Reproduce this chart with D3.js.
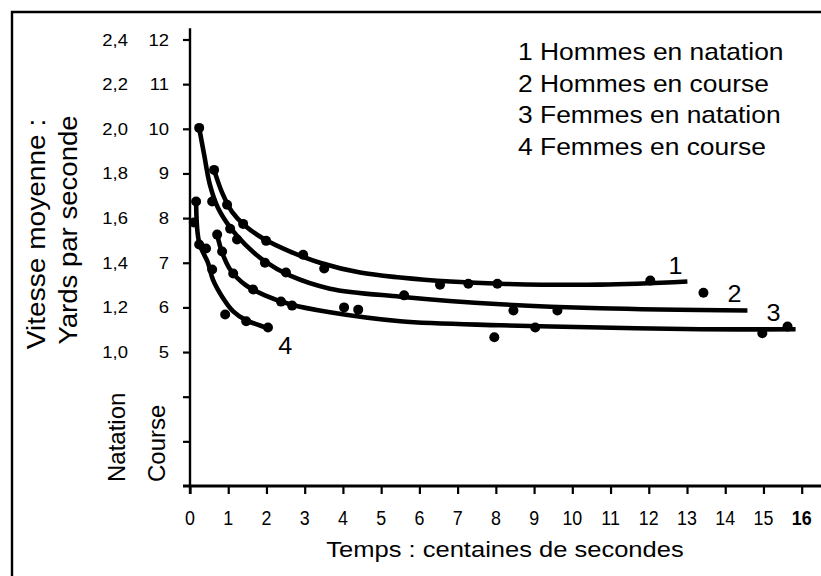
<!doctype html>
<html>
<head>
  <meta charset="UTF-8">
  <script src="https://d3js.org/d3.v7.min.js"></script>
  <style>
    body { margin: 0; background: #fff; }
    svg { display: block; }
    text { font-family: "Liberation Sans", Arial, Helvetica, sans-serif; fill: #000; }
  </style>
</head>
<body>
<svg width="821" height="576"></svg>
<script>
// x ticks: temps (centaines de secondes)
const xTicks = d3.range(0, 17);
// y ticks, right column = course, left column = natation (yards/s)
const courseTicks = [12, 11, 10, 9, 8, 7, 6, 5];
const swimTicks = ["2,4", "2,2", "2,0", "1,8", "1,6", "1,4", "1,2", "1,0"];
const extraTicks = [4, 3];

const legendItems = ["1 Hommes en natation", "2 Hommes en course",
                     "3 Femmes en natation", "4 Femmes en course"];

// measured points  [temps, vitesse (échelle course)]
const dots1 = [[0.63, 9.08], [0.97, 8.30], [1.39, 7.87], [1.99, 7.49], [2.96, 7.18],
               [3.51, 6.87], [6.54, 6.51], [7.28, 6.53], [8.04, 6.53], [12.04, 6.60]];
const dots2 = [[0.24, 10.02], [0.58, 8.37], [1.05, 7.76], [1.23, 7.52], [1.96, 7.00],
               [2.51, 6.78], [5.60, 6.27], [8.46, 5.93], [9.61, 5.93], [13.43, 6.33]];
const dots3 = [[0.71, 7.63], [0.84, 7.25], [1.13, 6.76], [1.65, 6.40], [2.38, 6.13],
               [2.67, 6.04], [4.03, 6.00], [4.40, 5.95], [7.96, 5.33], [9.03, 5.55],
               [14.97, 5.42], [15.63, 5.57]];
const dots4 = [[0.16, 8.37], [0.10, 7.90], [0.24, 7.41], [0.42, 7.32], [0.58, 6.85],
               [0.92, 5.84], [1.47, 5.69], [2.04, 5.55]];

// fitted curves
const fit1 = [[0.63, 9.08], [0.84, 8.57], [1.10, 8.14], [1.44, 7.83], [1.96, 7.52],
              [2.62, 7.25], [3.40, 7.00], [4.45, 6.78], [5.50, 6.67], [6.81, 6.58],
              [8.12, 6.53], [10.73, 6.51], [13.01, 6.58]];
const fit2 = [[0.24, 10.02], [0.37, 9.42], [0.52, 8.75], [0.73, 8.23], [1.05, 7.79],
              [1.44, 7.41], [1.96, 7.03], [2.62, 6.71], [3.66, 6.42], [5.50, 6.24],
              [8.12, 6.07], [10.73, 5.98], [14.58, 5.93]];
const fit3 = [[0.71, 7.63], [0.84, 7.23], [1.05, 6.85], [1.44, 6.51], [1.96, 6.27],
              [2.62, 6.07], [3.66, 5.89], [5.50, 5.69], [8.12, 5.60], [10.73, 5.55],
              [13.35, 5.51], [15.84, 5.51]];
const fit4 = [[0.16, 8.37], [0.24, 7.45], [0.47, 7.00], [0.60, 6.62], [0.84, 6.24],
              [1.13, 5.91], [1.47, 5.71], [1.75, 5.62], [2.04, 5.53]];

// where the curve numbers sit
const curveLabels = [["1", 12.70, 6.74], ["2", 14.24, 6.13], ["3", 15.26, 5.69], ["4", 2.49, 4.95]];

const svg = d3.select("svg");

const x = d3.scaleLinear().domain([0, 16]).range([190, 801.7]);
const y = d3.scaleLinear().domain([2, 12]).range([486, 39.5]);

// stretched text helper
function label(g, px, py, str, size, sx, rot, anchor, weight) {
  return g.append("text")
    .attr("transform", "translate(" + px + "," + py + ") rotate(" + (rot || 0) + ") scale(" + sx + ",1)")
    .attr("text-anchor", anchor || "start")
    .style("font-size", size + "px")
    .style("font-weight", weight || "normal")
    .text(str);
}

// frame
svg.append("path").attr("d", "M12,576V12H821")
  .attr("fill", "none").attr("stroke", "#000").attr("stroke-width", 2.4);

// axes
const yAxis = svg.append("g").attr("transform", "translate(190,0)")
  .call(d3.axisLeft(y).tickValues(courseTicks.concat(extraTicks)).tickSize(7).tickSizeOuter(0).tickFormat(""));
const xAxis = svg.append("g").attr("transform", "translate(0," + y(2) + ")")
  .call(d3.axisBottom(x).tickValues(xTicks).tickSize(8).tickSizeOuter(0).tickFormat(""));
svg.selectAll(".domain").remove();
svg.selectAll(".tick line").attr("stroke", "#000").attr("stroke-width", 2.2);

svg.append("line").attr("x1", x(0)).attr("x2", x(0)).attr("y1", y(12.25)).attr("y2", y(2) + 8)
  .attr("stroke", "#000").attr("stroke-width", 2.4);
svg.append("line").attr("x1", 183).attr("x2", 821).attr("y1", y(2)).attr("y2", y(2))
  .attr("stroke", "#000").attr("stroke-width", 2.8);

// y tick labels
const tl = svg.append("g");
courseTicks.forEach(function(v, i) {
  label(tl, 169, y(v) + 6, String(v), 16.5, 1.12, 0, "end");
  label(tl, 128, y(v) + 6, swimTicks[i], 16.5, 1.12, 0, "end");
});

// x tick labels
xTicks.forEach(function(t) {
  label(tl, x(t), 525, String(t), 21, 0.85, 0, "middle", t === 16 ? "bold" : "normal");
});

// axis titles
label(svg, 505, 557, "Temps : centaines de secondes", 22, 1.16, 0, "middle");
label(svg, 45, 234, "Vitesse moyenne :", 26, 1.08, -90, "middle");
label(svg, 77, 230, "Yards par seconde", 26, 1.06, -90, "middle");
label(svg, 125, 482, "Natation", 24, 1.0, -90, "start");
label(svg, 165, 482, "Course", 24, 1.0, -90, "start");

// legend
legendItems.forEach(function(s, i) {
  label(svg, 518, 60 + i * 31.7, s, 24, 1.1, 0, "start");
});

// curves
const line = d3.line().x(d => x(d[0])).y(d => y(d[1])).curve(d3.curveCatmullRom.alpha(0.5));
[fit1, fit2, fit3, fit4].forEach(function(f) {
  svg.append("path").attr("d", line(f))
    .attr("fill", "none").attr("stroke", "#000").attr("stroke-width", 4.6);
});

[dots1, dots2, dots3, dots4].forEach(function(ds) {
  svg.append("g").selectAll("circle").data(ds).enter().append("circle")
    .attr("cx", d => x(d[0])).attr("cy", d => y(d[1])).attr("r", 5).attr("fill", "#000");
});

curveLabels.forEach(function(c) {
  label(svg, x(c[1]), y(c[2]), c[0], 24, 1.05, 0, "middle");
});
</script>
</body>
</html>
